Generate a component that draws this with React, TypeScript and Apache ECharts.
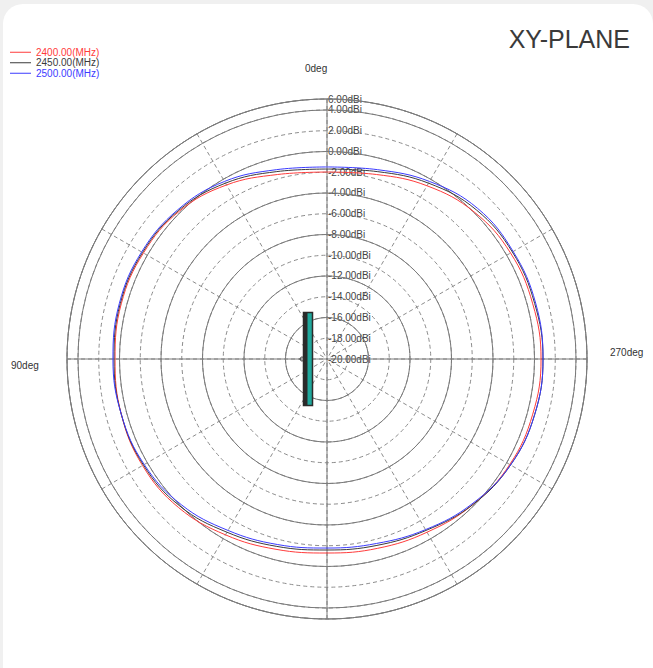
import React, { useEffect, useRef } from 'react';
import * as echarts from 'echarts';

const ANGLES = [0, 15, 30, 45, 60, 75, 90, 105, 120, 135, 150, 165, 180, 195, 210, 225, 240, 255, 270, 285, 300, 315, 330, 345, 360];
const SERIES_NAMES = ['2400.00(MHz)', '2450.00(MHz)', '2500.00(MHz)'];
const SERIES_COLORS = ['#ff3b3b', '#3a3a3a', '#3b3bff'];
const GAIN_2400 = [-1.98, -1.59, -0.63, 0.14, 0.43, 0.53, 0.43, 0.53, 0.53, 0.24, -0.43, -1.01, -1.30, -1.11, -0.72, -0.14, 0.34, 0.53, 0.63, 0.53, 0.43, 0.05, -0.72, -1.59, -1.98];
const GAIN_2450 = [-1.69, -1.30, -0.43, 0.24, 0.53, 0.63, 0.53, 0.53, 0.43, 0.05, -0.72, -1.30, -1.59, -1.40, -0.92, -0.14, 0.43, 0.72, 0.82, 0.72, 0.63, 0.34, -0.43, -1.30, -1.69];
const GAIN_2500 = [-1.49, -1.11, -0.24, 0.34, 0.63, 0.72, 0.63, 0.53, 0.34, -0.14, -0.92, -1.49, -1.78, -1.59, -1.01, -0.24, 0.43, 0.72, 0.82, 0.82, 0.72, 0.53, -0.24, -1.11, -1.49];
const RADIUS_MIN = -20;
const RADIUS_MAX = 5.06;
const RADIUS_MAX_LABEL = '6.00dBi';
const ANGLE_LABELS = ['0deg', '90deg', '270deg'];
const TITLE = 'XY-PLANE';

const FONT = '"Liberation Sans", Arial, sans-serif';

export default function App() {
  const ref = useRef<HTMLDivElement>(null);
  useEffect(() => {
    document.body.style.margin = '0';
    const chart = echarts.init(ref.current!, null, { renderer: 'svg' });
    const center = [327, 359];
    const radius = 260;
    const gains = [GAIN_2400, GAIN_2450, GAIN_2500];
    const solid = '#7a7a7a';
    const dashed = '#8c8c8c';
    const option: any = {
      animation: false,
      textStyle: { fontFamily: FONT },
      title: {
        text: TITLE,
        right: 18,
        top: 21,
        textStyle: { fontSize: 25, fontWeight: 'normal', color: '#3a3a3a', fontFamily: FONT },
      },
      legend: {
        orient: 'vertical',
        left: 10,
        top: 47,
        itemWidth: 21,
        itemHeight: 1,
        itemGap: 0,
        padding: 0,
        icon: 'rect',
        textStyle: { fontSize: 10, lineHeight: 10.5, fontFamily: FONT },
        data: SERIES_NAMES.map((n, i) => ({ name: n, textStyle: { color: SERIES_COLORS[i] } })),
      },
      polar: [
        { center, radius },
        { center, radius },
      ],
      angleAxis: [
        {
          polarIndex: 0, type: 'value', min: 0, max: 360, interval: 30, startAngle: 90, clockwise: false,
          axisLine: { show: false }, axisTick: { show: false }, axisLabel: { show: false },
          splitLine: { show: true, lineStyle: { color: dashed, type: [4, 3], width: 1 } }, z: 0,
        },
        {
          polarIndex: 1, type: 'value', min: 0, max: 360, interval: 90, startAngle: 90, clockwise: false,
          axisLine: { show: true, lineStyle: { color: solid, width: 1 } }, axisTick: { show: false }, axisLabel: { show: false },
          splitLine: { show: true, lineStyle: { color: solid, type: 'solid', width: 1 } }, z: 1,
        },
      ],
      radiusAxis: [
        {
          polarIndex: 0, type: 'value', min: RADIUS_MIN, max: RADIUS_MAX, interval: 2,
          axisLine: { show: false }, axisTick: { show: false },
          axisLabel: {
            show: true, margin: -1, align: 'left', verticalAlign: 'middle', fontSize: 10, color: '#444', fontFamily: FONT,
            formatter: (v: number) => (v > 4.5 ? RADIUS_MAX_LABEL : v.toFixed(2) + 'dBi'),
          },
          splitLine: { show: true, lineStyle: { color: dashed, type: [4, 3], width: 1 } }, z: 0,
        },
        {
          polarIndex: 1, type: 'value', min: RADIUS_MIN, max: RADIUS_MAX, interval: 4,
          axisLine: { show: false }, axisTick: { show: false }, axisLabel: { show: false },
          splitLine: { show: true, lineStyle: { color: solid, type: 'solid', width: 1 } }, z: 1,
        },
      ],
      series: SERIES_NAMES.map((n, i) => ({
        name: n,
        type: 'line',
        coordinateSystem: 'polar',
        polarIndex: 0,
        symbol: 'none',
        smooth: 0.4,
        z: 5,
        lineStyle: { color: SERIES_COLORS[i], width: 1 },
        itemStyle: { color: SERIES_COLORS[i] },
        data: ANGLES.map((a, k) => [gains[i][k], a]),
      })),
      graphic: [
        { type: 'text', left: 305, top: 63, style: { text: ANGLE_LABELS[0], fontSize: 10, fill: '#333', fontFamily: FONT } },
        { type: 'text', left: 11, top: 360, style: { text: ANGLE_LABELS[1], fontSize: 10, fill: '#333', fontFamily: FONT } },
        { type: 'text', left: 610, top: 347, style: { text: ANGLE_LABELS[2], fontSize: 10, fill: '#333', fontFamily: FONT } },
        { type: 'rect', z: 10, shape: { x: 303.5, y: 312.5, width: 9, height: 93 }, style: { fill: '#20a89c', stroke: '#2a2a2a', lineWidth: 1.5 } },
        { type: 'rect', z: 11, shape: { x: 303.5, y: 312.5, width: 4, height: 93 }, style: { fill: '#2a2a2a' } },
        { type: 'circle', z: 11, shape: { cx: 302, cy: 359, r: 2 }, style: { fill: 'none', stroke: '#333', lineWidth: 1 } },
      ],
    };
    chart.setOption(option);
    return () => chart.dispose();
  }, []);
  return (
    <div style={{ position: 'relative', width: 653, height: 668, overflow: 'hidden', background: '#f0f0f0' }}>
      <div style={{ position: 'absolute', left: 3, top: 4, width: 650, height: 690, background: '#fff', borderRadius: 20 }} />
      <div ref={ref} style={{ position: 'absolute', left: 0, top: 0, width: 653, height: 668 }} />
    </div>
  );
}
